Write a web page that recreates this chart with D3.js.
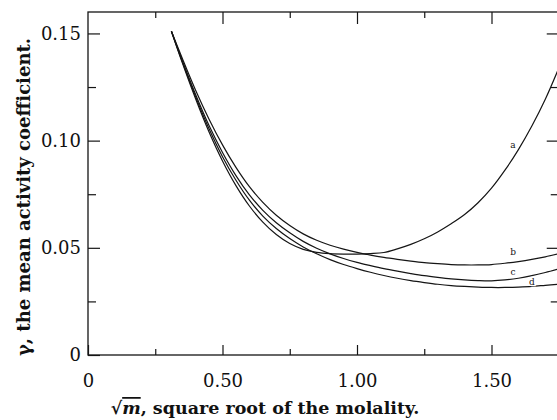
<!DOCTYPE html>
<html>
<head>
<meta charset="utf-8">
<script src="https://cdn.jsdelivr.net/npm/d3@7/dist/d3.min.js"></script>
<style>
  html, body { margin: 0; padding: 0; background: #fff; }
  svg { display: block; }
  text { font-family: "DejaVu Serif", "Liberation Serif", serif; fill: #111; }
</style>
</head>
<body>
<svg id="chart" width="557" height="420"></svg>
<script>
// ---- data ----
const xMajorTicks = [0, 0.5, 1.0, 1.5];
const xTickLabels = ["0", "0.50", "1.00", "1.50"];
const xMinorTicks = [0.25, 0.75, 1.25];
const yMajorTicks = [0, 0.05, 0.10, 0.15];
const yTickLabels = ["0", "0.05", "0.10", "0.15"];
const yMinorTicks = [0.025, 0.075, 0.125];

const sqrtM = [0.31, 0.35, 0.40, 0.45, 0.50, 0.55, 0.60, 0.65, 0.70, 0.75, 0.80, 0.85, 0.90, 0.95, 1.00, 1.05, 1.10, 1.15, 1.20, 1.25, 1.30, 1.35, 1.40, 1.45, 1.50, 1.55, 1.60, 1.65, 1.70, 1.75];
const gammaA = [0.151, 0.1365, 0.1195, 0.1040, 0.0905, 0.0790, 0.0695, 0.0620, 0.0562, 0.0520, 0.0493, 0.0479, 0.0473, 0.0471, 0.0471, 0.0473, 0.0478, 0.0495, 0.0516, 0.0542, 0.0574, 0.0612, 0.0655, 0.0710, 0.0778, 0.0862, 0.0958, 0.1068, 0.1193, 0.1338];
const gammaB = [0.151, 0.1385, 0.1235, 0.1100, 0.0980, 0.0875, 0.0785, 0.0712, 0.0652, 0.0604, 0.0565, 0.0535, 0.0512, 0.0494, 0.0479, 0.0466, 0.0455, 0.0446, 0.0438, 0.0431, 0.0426, 0.0422, 0.0420, 0.0420, 0.0422, 0.0428, 0.0436, 0.0446, 0.0458, 0.0472];
const gammaC = [0.151, 0.1375, 0.1215, 0.1070, 0.0945, 0.0837, 0.0747, 0.0675, 0.0617, 0.0570, 0.0530, 0.0498, 0.0472, 0.0450, 0.0432, 0.0417, 0.0403, 0.0391, 0.0380, 0.0370, 0.0362, 0.0355, 0.0350, 0.0347, 0.0346, 0.0350, 0.0358, 0.0370, 0.0385, 0.0402];
const gammaD = [0.151, 0.1370, 0.1205, 0.1055, 0.0925, 0.0815, 0.0722, 0.0648, 0.0590, 0.0543, 0.0504, 0.0472, 0.0445, 0.0422, 0.0403, 0.0386, 0.0371, 0.0358, 0.0347, 0.0338, 0.0330, 0.0324, 0.0320, 0.0317, 0.0315, 0.0315, 0.0317, 0.0320, 0.0325, 0.0330];
const seriesNames = ["a", "b", "c", "d"];
const labelX = [1.58, 1.58, 1.58, 1.65];
const labelY = [0.0965, 0.0465, 0.0375, 0.0328];

// ---- layout ----
const svg = d3.select("#chart");
const x = d3.scaleLinear().domain([0, 1.75]).range([88, 558.75]);
const y = d3.scaleLinear().domain([0, 0.16]).range([355, 12]);
const ink = "#151515";

svg.append("rect").attr("width", 557).attr("height", 420).attr("fill", "#fff");

svg.append("clipPath").attr("id", "plotclip")
  .append("rect").attr("x", x(0)).attr("y", y(0.16))
  .attr("width", x(1.75) - x(0)).attr("height", y(0) - y(0.16));

// frame
svg.append("rect")
  .attr("x", x(0)).attr("y", y(0.16))
  .attr("width", x(1.75) - x(0)).attr("height", y(0) - y(0.16))
  .attr("fill", "none").attr("stroke", ink).attr("stroke-width", 1.3);

function styleAxis(g) {
  g.select(".domain").remove();
  g.selectAll("line").attr("stroke", ink).attr("stroke-width", 1.2);
  g.selectAll("text").attr("font-size", 18).attr("font-family", "DejaVu Serif, serif").attr("fill", ink);
}

// bottom axis
svg.append("g").attr("transform", `translate(0,${y(0)})`)
  .call(d3.axisBottom(x).tickValues(xMajorTicks).tickSize(-10).tickPadding(19)
    .tickFormat((d, i) => xTickLabels[i]))
  .call(styleAxis);
svg.append("g").attr("transform", `translate(0,${y(0)})`)
  .call(d3.axisBottom(x).tickValues(xMinorTicks).tickSize(-6).tickFormat(""))
  .call(styleAxis);
// top axis
svg.append("g").attr("transform", `translate(0,${y(0.16)})`)
  .call(d3.axisTop(x).tickValues(xMajorTicks.slice(1)).tickSize(-12).tickFormat(""))
  .call(styleAxis);
svg.append("g").attr("transform", `translate(0,${y(0.16)})`)
  .call(d3.axisTop(x).tickValues(xMinorTicks).tickSize(-6).tickFormat(""))
  .call(styleAxis);
// left axis
svg.append("g").attr("transform", `translate(${x(0)},0)`)
  .call(d3.axisLeft(y).tickValues(yMajorTicks).tickSize(-12).tickPadding(7)
    .tickFormat((d, i) => yTickLabels[i]))
  .call(styleAxis);
svg.append("g").attr("transform", `translate(${x(0)},0)`)
  .call(d3.axisLeft(y).tickValues(yMinorTicks).tickSize(-8).tickFormat(""))
  .call(styleAxis);
// right axis
svg.append("g").attr("transform", `translate(${x(1.75)},0)`)
  .call(d3.axisRight(y).tickValues(yMajorTicks.slice(1)).tickSize(-12).tickFormat(""))
  .call(styleAxis);
svg.append("g").attr("transform", `translate(${x(1.75)},0)`)
  .call(d3.axisRight(y).tickValues(yMinorTicks).tickSize(-8).tickFormat(""))
  .call(styleAxis);

// curves
const line = d3.line().x(d => x(d[0])).y(d => y(d[1])).curve(d3.curveCatmullRom.alpha(0.5));
const allSeries = [gammaA, gammaB, gammaC, gammaD];
const plot = svg.append("g").attr("clip-path", "url(#plotclip)");
allSeries.forEach((vals, i) => {
  plot.append("path")
    .datum(sqrtM.map((m, j) => [m, vals[j]]))
    .attr("d", line)
    .attr("fill", "none").attr("stroke", ink).attr("stroke-width", 1.2);
});
seriesNames.forEach((n, i) => {
  svg.append("text")
    .attr("x", x(labelX[i])).attr("y", y(labelY[i]))
    .attr("font-size", 9).attr("font-family", "DejaVu Sans, sans-serif")
    .attr("text-anchor", "middle").attr("fill", ink)
    .attr("stroke", "#fff").attr("stroke-width", 2.5).attr("paint-order", "stroke")
    .text(n);
});

// axis titles
const xt = svg.append("text")
  .attr("x", 265).attr("y", 414).attr("text-anchor", "middle")
  .attr("font-size", 17.5).attr("font-weight", "bold");
xt.append("tspan").text("√");
xt.append("tspan").attr("font-style", "italic").style("text-decoration", "overline").text("m");
xt.append("tspan").text(", square root of the molality.");

svg.append("text")
  .attr("transform", "translate(30,197) rotate(-90)")
  .attr("text-anchor", "middle")
  .attr("font-size", 18).attr("font-weight", "bold")
  .text("γ, the mean activity coefficient.");
</script>
</body>
</html>
